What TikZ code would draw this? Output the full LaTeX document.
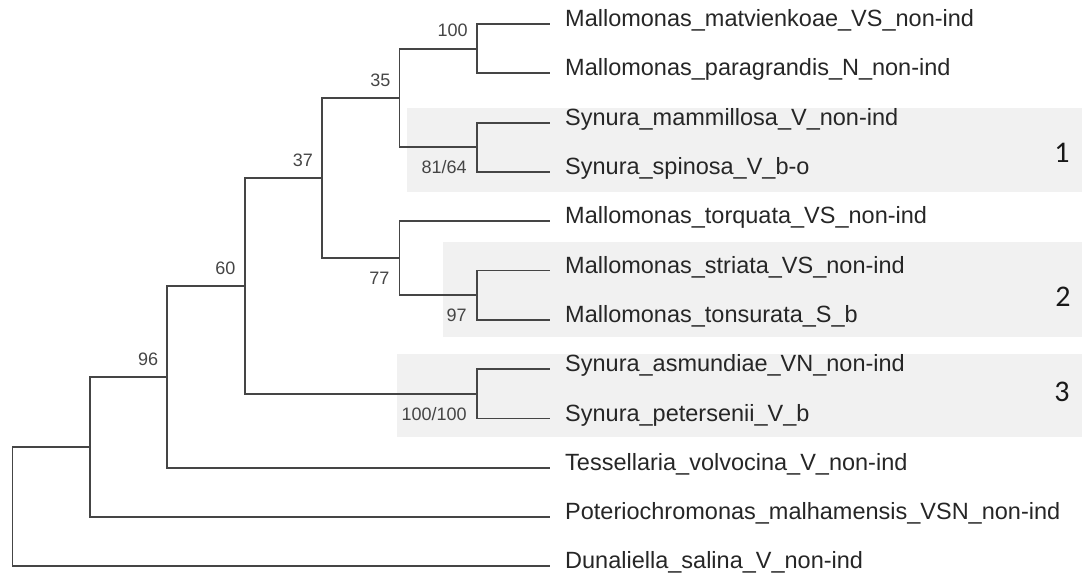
\documentclass[tikz,border=0pt]{standalone}
\usepackage{fontspec}
\setmainfont{Liberation Sans}
\newfontfamily\cladefont{Carlito}
\usepackage{xcolor}
\usepackage{tikz}
\definecolor{groupgray}{rgb}{0.945,0.945,0.945}
\definecolor{ink}{rgb}{0.27,0.27,0.27}

\begin{document}
\begin{tikzpicture}[x=1pt,y=1pt]
    \def\dx{77.4}
    \def\dy{49.3}
    \def\xo{12.5}
    \def\yo{24}
    \newcounter{i}
    \tikzstyle{leaf}=[anchor=mid west, inner xsep=15pt, inner ysep=0pt, color=black!85, font=\fontsize{23.5}{28}\selectfont]
    \tikzstyle{support}=[anchor=east, inner sep=0pt, color=ink, font=\fontsize{18}{21}\selectfont]
    \tikzstyle{clade}=[inner sep=0pt, color=black!90, font=\cladefont\fontsize{30}{34}\selectfont]

    \useasboundingbox (0,0) rectangle (1082,-579);

    % shaded groups
    \fill[groupgray] (407,-108) rectangle (1082,-192);
    \fill[groupgray] (443,-242) rectangle (1082,-337);
    \fill[groupgray] (397,-354) rectangle (1082,-437);

    % taxa
    \stepcounter{i}\node[leaf] (\arabic{i}) at (550,-\yo-0*\dy) {Mallomonas\_matvienkoae\_VS\_non-ind};
    \stepcounter{i}\node[leaf] (\arabic{i}) at (550,-\yo-1*\dy) {Mallomonas\_paragrandis\_N\_non-ind};
    \stepcounter{i}\node[leaf] (\arabic{i}) at (550,-\yo-2*\dy) {Synura\_mammillosa\_V\_non-ind};
    \stepcounter{i}\node[leaf] (\arabic{i}) at (550,-\yo-3*\dy) {Synura\_spinosa\_V\_b-o};
    \stepcounter{i}\node[leaf] (\arabic{i}) at (550,-\yo-4*\dy) {Mallomonas\_torquata\_VS\_non-ind};
    \stepcounter{i}\node[leaf] (\arabic{i}) at (550,-\yo-5*\dy) {Mallomonas\_striata\_VS\_non-ind};
    \stepcounter{i}\node[leaf] (\arabic{i}) at (550,-\yo-6*\dy) {Mallomonas\_tonsurata\_S\_b};
    \stepcounter{i}\node[leaf] (\arabic{i}) at (550,-\yo-7*\dy) {Synura\_asmundiae\_VN\_non-ind};
    \stepcounter{i}\node[leaf] (\arabic{i}) at (550,-\yo-8*\dy) {Synura\_petersenii\_V\_b};
    \stepcounter{i}\node[leaf] (\arabic{i}) at (550,-\yo-9*\dy) {Tessellaria\_volvocina\_V\_non-ind};
    \stepcounter{i}\node[leaf] (\arabic{i}) at (550,-\yo-10*\dy) {Poteriochromonas\_malhamensis\_VSN\_non-ind};
    \stepcounter{i}\node[leaf] (\arabic{i}) at (550,-\yo-11*\dy) {Dunaliella\_salina\_V\_non-ind};

    % internal nodes
    \stepcounter{i}\coordinate (\arabic{i}) at (\xo+6*\dx,-\yo-0.5*\dy);
    \stepcounter{i}\coordinate (\arabic{i}) at (\xo+6*\dx,-\yo-2.5*\dy);
    \stepcounter{i}\coordinate (\arabic{i}) at (\xo+5*\dx,-\yo-1.5*\dy);
    \stepcounter{i}\coordinate (\arabic{i}) at (\xo+6*\dx,-\yo-5.5*\dy);
    \stepcounter{i}\coordinate (\arabic{i}) at (\xo+5*\dx,-\yo-4.75*\dy);
    \stepcounter{i}\coordinate (\arabic{i}) at (\xo+4*\dx,-\yo-3.125*\dy);
    \stepcounter{i}\coordinate (\arabic{i}) at (\xo+6*\dx,-\yo-7.5*\dy);
    \stepcounter{i}\coordinate (\arabic{i}) at (\xo+3*\dx,-\yo-5.3125*\dy);
    \stepcounter{i}\coordinate (\arabic{i}) at (\xo+2*\dx,-\yo-7.15625*\dy);
    \stepcounter{i}\coordinate (\arabic{i}) at (\xo+1*\dx,-\yo-8.578*\dy);
    \stepcounter{i}\coordinate (\arabic{i}) at (\xo+0*\dx,-\yo-9.789*\dy);

    % support values
    \stepcounter{i}\node[support] (\arabic{i}) at ([xshift=-9,yshift=18]13) {100};
    \stepcounter{i}\node[support] (\arabic{i}) at ([xshift=-9,yshift=18]15) {35};
    \stepcounter{i}\node[support] (\arabic{i}) at ([xshift=-9,yshift=18]18) {37};
    \stepcounter{i}\node[support] (\arabic{i}) at ([xshift=-9,yshift=18]20) {60};
    \stepcounter{i}\node[support] (\arabic{i}) at ([xshift=-9,yshift=18]21) {96};
    \stepcounter{i}\node[support] (\arabic{i}) at ([xshift=-10,yshift=-20]14) {81/64};
    \stepcounter{i}\node[support] (\arabic{i}) at ([xshift=-10,yshift=-20]17) {77};
    \stepcounter{i}\node[support] (\arabic{i}) at ([xshift=-10,yshift=-20]16) {97};
    \stepcounter{i}\node[support] (\arabic{i}) at ([xshift=-10,yshift=-20]19) {100/100};

    % groups
    \stepcounter{i}\node[clade] (\arabic{i}) at (1062,-153) {1};
    \stepcounter{i}\node[clade] (\arabic{i}) at (1063,-297) {2};
    \stepcounter{i}\node[clade] (\arabic{i}) at (1062,-392) {3};

    \tikzstyle{branch} = [draw=ink, line width=1.8pt]

          \draw [branch] (13) |- (1.mid west);
          \draw [branch] (13) |- (2.mid west);
          \draw [branch] (14) |- (3.mid west);
          \draw [branch] (14) |- (4.mid west);
          \draw [branch] (15) |- (13);
          \draw [branch] (15) |- (14);

          \draw [branch] (16) |- (6.mid west);
          \draw [branch] (16) |- (7.mid west);
          \draw [branch] (17) |- (5.mid west);
          \draw [branch] (17) |- (16);
          \draw [branch] (18) |- (15);
          \draw [branch] (18) |- (17);

          \draw [branch] (19) |- (8.mid west);
          \draw [branch] (19) |- (9.mid west);
          \draw [branch] (20) |- (18);
          \draw [branch] (20) |- (19);

          \draw [branch] (21) |- (20);
          \draw [branch] (21) |- (10.mid west);
          \draw [branch] (22) |- (21);
          \draw [branch] (22) |- (11.mid west);
          \draw [branch] (23) |- (22);
          \draw [branch] (23) |- (12.mid west);
  \end{tikzpicture}
\end{document}
